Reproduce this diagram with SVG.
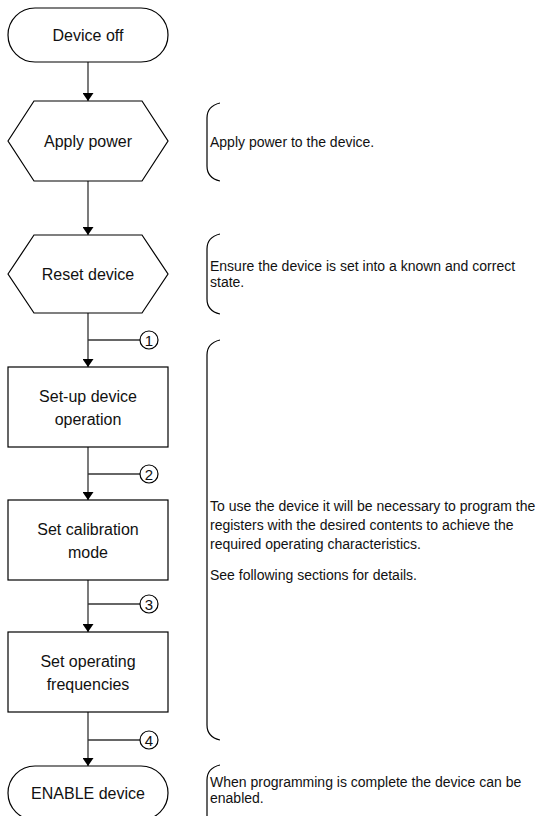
<svg xmlns="http://www.w3.org/2000/svg" width="537" height="816" viewBox="0 0 537 816">
<defs>
<marker id="arr" markerWidth="8" markerHeight="11" refX="8" refY="5.5" orient="auto" markerUnits="userSpaceOnUse" viewBox="0 0 8 11">
<path d="M0,0 L8,5.5 L0,11 Z" fill="#000"/>
</marker>
</defs>
<style>
.shape{fill:#fff;stroke:#000;stroke-width:1.2}
.lbl{font-family:"Liberation Sans",Arial,sans-serif;font-size:16px;fill:#111;text-anchor:middle}
.note{font-family:"Liberation Sans",Arial,sans-serif;font-size:14px;fill:#111}
.num{font-family:"Liberation Sans",Arial,sans-serif;font-size:15px;fill:#111;text-anchor:middle}
.conn{fill:none;stroke:#333;stroke-width:1.3}
.brace{fill:none;stroke:#000;stroke-width:1.2}
.circ{fill:#fff;stroke:#000;stroke-width:1.2}
</style>
<rect width="537" height="816" fill="#fff"/>
<g id="connectors">
<line class="conn" x1="88" y1="62" x2="88" y2="101" marker-end="url(#arr)"/>
<line class="conn" x1="88" y1="181" x2="88" y2="235" marker-end="url(#arr)"/>
<line class="conn" x1="88" y1="313" x2="88" y2="367" marker-end="url(#arr)"/>
<line class="conn" x1="88" y1="447" x2="88" y2="500" marker-end="url(#arr)"/>
<line class="conn" x1="88" y1="580" x2="88" y2="632" marker-end="url(#arr)"/>
<line class="conn" x1="88" y1="712" x2="88" y2="766" marker-end="url(#arr)"/>
<line class="conn" x1="88" y1="340" x2="140" y2="340"/>
<line class="conn" x1="88" y1="474" x2="140" y2="474"/>
<line class="conn" x1="88" y1="604" x2="140" y2="604"/>
<line class="conn" x1="88" y1="740" x2="140" y2="740"/>
</g>
<g id="device-off">
<rect class="shape" x="8" y="8" width="160" height="54" rx="27" ry="27"/>
<text class="lbl" x="88" y="41">Device off</text>
</g>
<g id="apply-power">
<polygon class="shape" points="8,141 34,101 142,101 168,141 142,181 34,181"/>
<text class="lbl" x="88" y="147">Apply power</text>
</g>
<g id="reset-device">
<polygon class="shape" points="8,274 34,235 142,235 168,274 142,313 34,313"/>
<text class="lbl" x="88" y="280">Reset device</text>
</g>
<g id="setup-operation">
<rect class="shape" x="8" y="367" width="160" height="80"/>
<text class="lbl" x="88" y="402">Set-up device</text>
<text class="lbl" x="88" y="425">operation</text>
</g>
<g id="set-calibration">
<rect class="shape" x="8" y="500" width="160" height="80"/>
<text class="lbl" x="88" y="535">Set calibration</text>
<text class="lbl" x="88" y="558">mode</text>
</g>
<g id="set-frequencies">
<rect class="shape" x="8" y="632" width="160" height="80"/>
<text class="lbl" x="88" y="667">Set operating</text>
<text class="lbl" x="88" y="690">frequencies</text>
</g>
<g id="enable-device">
<rect class="shape" x="8" y="766" width="160" height="54" rx="27" ry="27"/>
<text class="lbl" x="88" y="799">ENABLE device</text>
</g>
<g id="step-1"><circle class="circ" cx="149" cy="340" r="9"/><text class="num" x="149" y="345.5">1</text></g>
<g id="step-2"><circle class="circ" cx="149" cy="474" r="9"/><text class="num" x="149" y="479.5">2</text></g>
<g id="step-3"><circle class="circ" cx="149" cy="604" r="9"/><text class="num" x="149" y="609.5">3</text></g>
<g id="step-4"><circle class="circ" cx="149" cy="740" r="9"/><text class="num" x="149" y="745.5">4</text></g>
<g id="note-power">
<path class="brace" d="M220,103 Q207,106 207,118 V166 Q207,178 220,181"/>
<text class="note" x="210" y="147">Apply power to the device.</text>
</g>
<g id="note-reset">
<path class="brace" d="M220,234 Q207,237 207,249 V299 Q207,311 220,314"/>
<text class="note" x="210" y="271">Ensure the device is set into a known and correct</text>
<text class="note" x="210" y="287">state.</text>
</g>
<g id="note-program">
<path class="brace" d="M220,340 Q207,343 207,355 V725 Q207,737 220,740"/>
<text class="note" x="210" y="511">To use the device it will be necessary to program the</text>
<text class="note" x="210" y="530">registers with the desired contents to achieve the</text>
<text class="note" x="210" y="549">required operating characteristics.</text>
<text class="note" x="210" y="580">See following sections for details.</text>
</g>
<g id="note-enable">
<path class="brace" d="M220,765 Q207,768 207,780 V830"/>
<text class="note" x="210" y="787">When programming is complete the device can be</text>
<text class="note" x="210" y="803">enabled.</text>
</g>
</svg>
